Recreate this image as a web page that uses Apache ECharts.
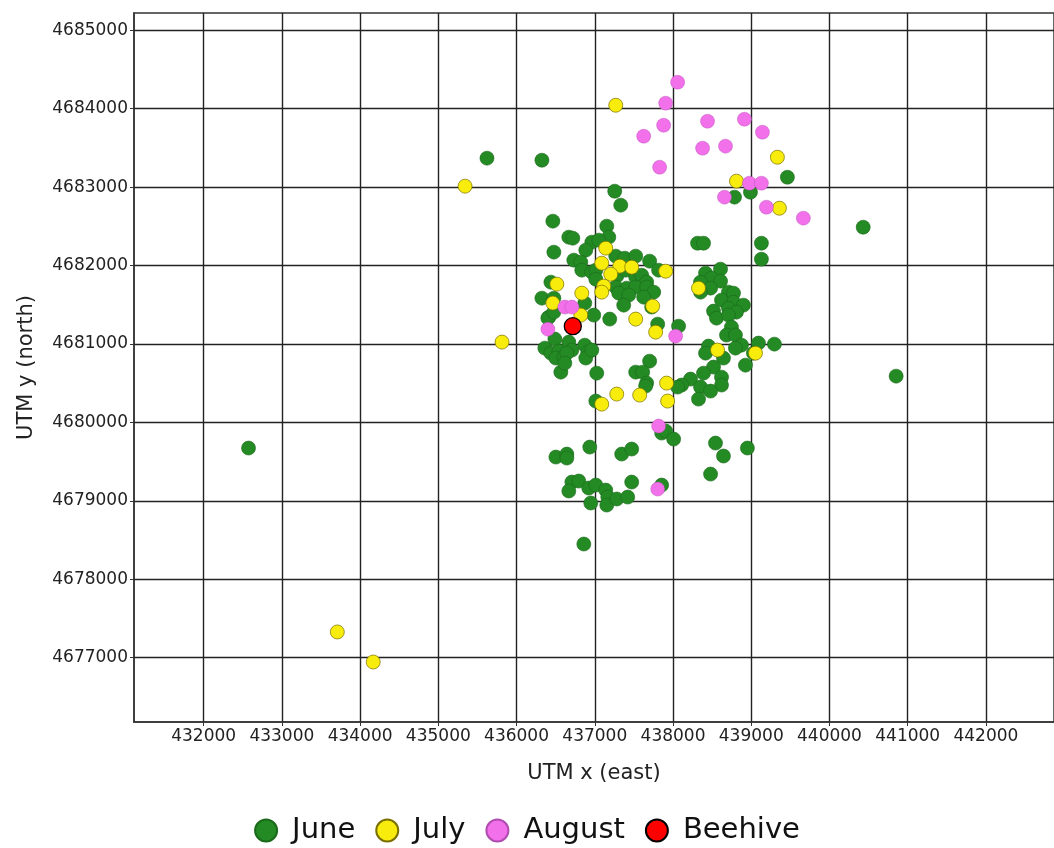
<!DOCTYPE html>
<html><head><meta charset="utf-8">
<script src="https://cdn.jsdelivr.net/npm/echarts@6/dist/echarts.min.js"></script>
<style>html,body{margin:0;padding:0;background:#fff}#c{width:1054px;height:848px}</style>
</head><body><div id="c"></div>
<script>
const seriesNames = ['June', 'July', 'August', 'Beehive'];
const xTicks = [432000,433000,434000,435000,436000,437000,438000,439000,440000,441000,442000];
const yTicks = [4677000,4678000,4679000,4680000,4681000,4682000,4683000,4684000,4685000];

const june = [
[432574,4679673],[435622,4683369],[436324,4683343],[440852,4680590],[440431,4682489],[439462,4683126],[436860,4678449],
[438786,4682872],[438990,4682935],[438314,4682285],[438390,4682285],[439130,4682285],[439130,4682081],
[437255,4682948],[437332,4682770],[436464,4682566],[436668,4682362],[436719,4682349],[436477,4682171],[437153,4682502],
[437179,4682362],[436962,4682298],[436885,4682196],[437051,4682324],[436732,4682069],[436821,4682043],[436834,4681941],
[436962,4681916],[436439,4681788],[436324,4681584],[436477,4681584],[436872,4681521],[436413,4681342],[437191,4681317],
[436987,4681368],[437013,4681941],[437013,4681826],[437268,4682120],[437383,4682094],[437523,4682120],[437701,4682056],
[437816,4681941],[437281,4681865],[437395,4681941],[437523,4681852],[437599,4681877],[437663,4681788],[437268,4681725],
[437408,4681712],[437523,4681725],[437663,4681725],[437753,4681661],[437306,4681648],[437434,4681623],[437625,4681597],
[437370,4681495],[437727,4681470],[437804,4681253],[438071,4681227],
[438607,4681954],[438416,4681903],[438492,4681839],[438352,4681788],[438607,4681801],[438480,4681712],[438352,4681661],
[438709,4681661],[438773,4681648],[438620,4681559],[438773,4681533],[438900,4681495],[438518,4681419],[438709,4681457],
[438811,4681406],[438556,4681329],[438709,4681368],[438747,4681215],[438684,4681113],[438798,4681113],[438875,4680985],
[438798,4680947],[439092,4681011],[439296,4680998],[439028,4680883],[438454,4680973],[438416,4680883],[438645,4680820],
[438926,4680730],[438518,4680705],[438390,4680628],[438620,4680577],[438224,4680552],[438620,4680476],[438352,4680450],
[438480,4680399],[438326,4680297],[438110,4680476],[438059,4680450],
[436949,4680922],[437701,4680781],[437523,4680641],[437612,4680641],[437025,4680628],[437663,4680501],[437650,4680463],
[437013,4680272],
[436400,4681329],[436477,4681406],[436490,4681062],[436362,4680947],[436439,4680883],[436541,4680909],[436503,4680820],
[436605,4680832],[436668,4681024],[436707,4680922],[436643,4680883],[436566,4680641],[436617,4680756],[436872,4680985],
[436911,4680896],[436885,4680820],[436962,4680922],
[436503,4679558],[436643,4679596],[436643,4679545],[436936,4679685],[437344,4679596],[437472,4679660],[437855,4679864],
[437906,4679889],[438008,4679787],[438543,4679736],[438645,4679571],[438951,4679673],[438480,4679341],[436707,4679239],
[436796,4679252],[436668,4679125],[436923,4679163],[437013,4679201],[437140,4679137],[437166,4679048],[436949,4678972],
[437153,4678946],[437281,4679023],[437421,4679048],[437472,4679239],[437855,4679201]
];
const july = [
[437268,4684044],[435342,4683012],[439334,4683381],[438811,4683076],[439360,4682731],[435814,4681024],[433709,4677328],
[434168,4676945],[437140,4682222],[437089,4682030],[437319,4681992],[437472,4681979],[437906,4681928],[437204,4681890],
[437115,4681737],[437089,4681661],[437740,4681482],[437523,4681317],[437778,4681151],[438326,4681712],[438569,4680922],
[439054,4680883],[436515,4681763],[436834,4681648],[436464,4681521],[436821,4681368],[437281,4680361],[437574,4680348],
[437918,4680501],[437931,4680272],[437089,4680233]
];
const august = [
[438059,4684337],[437906,4684070],[437625,4683649],[437880,4683789],[438441,4683840],[438913,4683866],[439143,4683700],
[438378,4683496],[438671,4683522],[437829,4683254],[438977,4683050],[439130,4683050],[438658,4682872],[439194,4682744],
[439666,4682604],[436617,4681470],[436707,4681470],[436400,4681189],[438033,4681100],[437816,4679953],[437804,4679150]
];
const beehive = [[436719,4681227]];

const FONT = 'DejaVu Sans';
const chart = echarts.init(document.getElementById('c'), null, {renderer:'canvas'});
const mk = (name, data, color, border, bw, size, z) => ({
  name, type:'scatter', data, symbol:'circle', symbolSize:size, z,
  itemStyle:{color, borderColor:border, borderWidth:bw, opacity:1},
  emphasis:{disabled:true}, animation:false
});
const axisCommon = (ticks) => ({
  type:'value', nameLocation:'middle',
  nameTextStyle:{fontFamily:FONT, fontSize:21, color:'#222'},
  axisLine:{show:true, lineStyle:{color:'#333', width:1.5}},
  axisTick:{show:true, length:4, customValues:ticks, lineStyle:{color:'#333'}},
  splitLine:{show:true, lineStyle:{color:'#222', width:1.4}},
  axisLabel:{fontFamily:FONT, fontSize:17, color:'#222', margin:6, customValues:ticks, formatter:v => String(v)}
});
chart.setOption({
  animation:false,
  backgroundColor:'#fff',
  grid:{left:134, right:-2, top:13, bottom:126, show:true, borderColor:'#333', borderWidth:1.5},
  xAxis:Object.assign(axisCommon(xTicks), {min:431110, max:442870, name:'UTM x (east)', nameGap:41}),
  yAxis:Object.assign(axisCommon(yTicks), {min:4676180, max:4685220, name:'UTM y (north)', nameGap:97, nameRotate:90}),
  legend:{
    data:seriesNames, top:811, left:'center', itemWidth:22, itemHeight:22, itemGap:20,
    textStyle:{fontFamily:FONT, fontSize:29, color:'#111', padding:[0,0,0,10]},
    icon:'circle'
  },
  series:[
    mk('June', june, '#248a24', '#1b6a1b', 0.6, 14, 2),
    mk('July', july, '#f7ec0c', '#7a7000', 0.7, 14, 3),
    mk('August', august, '#f270ea', '#b04cb0', 0.4, 14, 4),
    mk('Beehive', beehive, '#ff0000', '#000000', 1.3, 17, 5)
  ]
});
</script></body></html>
